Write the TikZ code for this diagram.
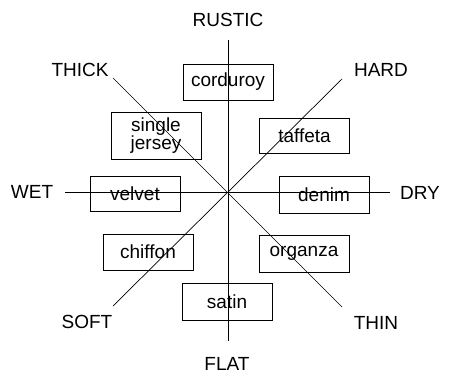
\documentclass[tikz,border=0pt]{standalone}
\usepackage{fontspec}
\setmainfont{Liberation Sans}
\begin{document}
\begin{tikzpicture}[x=1pt,y=-1pt,
  axis/.style={draw=black,line width=0.7pt},
  fabric/.style={draw=black,line width=0.7pt,minimum width=90pt,minimum height=36pt,inner sep=0pt,font=\fontsize{19}{17}\selectfont,align=center},
  pole/.style={font=\fontsize{19}{20}\selectfont,inner sep=0pt}]
\useasboundingbox (0,0) rectangle (449,374);
\coordinate (c) at (228,192);
% axis ends
\coordinate (eN) at (228,40);
\coordinate (eS) at (228,341);
\coordinate (eW) at (65,192);
\coordinate (eE) at (390,192);
\coordinate (eNW) at (113,78);
\coordinate (eNE) at (342,79);
\coordinate (eSW) at (113,306);
\coordinate (eSE) at (342,307);
\draw[axis] (eN) -- (eS);
\draw[axis] (eW) -- (eE);
\draw[axis] (eNW) -- (eSE);
\draw[axis] (eNE) -- (eSW);
% pole labels
\node[pole] (rustic) at (228,20) {RUSTIC};
\node[pole] (flat) at (227,364) {FLAT};
\node[pole] (wet) at (32,192) {WET};
\node[pole] (dry) at (420,193) {DRY};
\node[pole] (thick) at (80,70) {THICK};
\node[pole] (hard) at (381,70) {HARD};
\node[pole] (soft) at (87,322) {SOFT};
\node[pole] (thin) at (376,323) {THIN};
% fabric boxes
\node[fabric,minimum height=36pt] (corduroy) at (228,82) {corduroy};
\node[fabric,minimum height=47pt] (jersey) at (156,135.5) {single\\jersey};
\node[fabric,minimum height=35pt] (taffeta) at (304.5,135.5) {taffeta};
\node[fabric,minimum height=35pt] (velvet) at (135,193.5) {velvet};
\node[fabric,minimum height=37pt] (denim) at (324,194.5) {denim};
\node[fabric,minimum height=36pt] (chiffon) at (148,252) {chiffon};
\node[fabric,minimum height=37pt] (organza) at (304,253.5) {organza};
\node[fabric,minimum height=37pt] (satin) at (227,301.5) {satin};
\end{tikzpicture}
\end{document}
